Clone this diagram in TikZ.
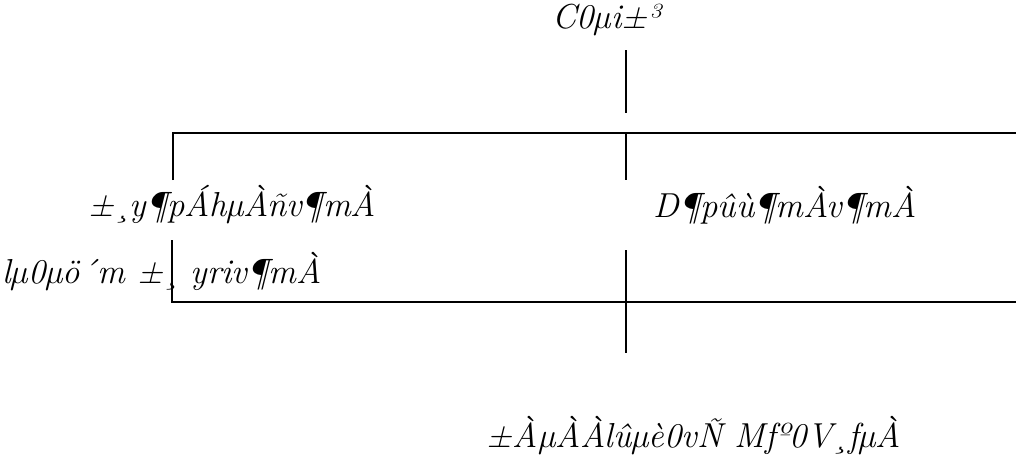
\documentclass[tikz,border=0pt]{standalone}
\usetikzlibrary{positioning}

\begin{document}
\begin{tikzpicture}[
  x=0.75pt,y=-0.75pt,
  lbl/.style={font=\fontsize{26}{30}\selectfont\itshape,inner sep=0pt},
  ln/.style={line width=1.4pt,draw=black}
]
\useasboundingbox (0,0) rectangle (1016,462);
% labels
\node[lbl] (root) at (606,20) {C0µi±³};
\node[lbl] (left) at (232,205) {±¸y¶pÁhµÀñv¶mÀ};
\node[lbl] (right) at (785,205) {D¶pûù¶mÀv¶mÀ};
\node[lbl,anchor=west] (sub) at (2,272) {lµ0µö´m ±¸\,\,yriv¶mÀ};
\node[lbl] (bottom) at (694,436) {±ÀµÀÀlûµè0vÑ Mfº0V¸fµÀ};
% joints
\coordinate (rootA) at (626,50);
\coordinate (rootB) at (626,113);
\coordinate (busL) at (173,133);
\coordinate (busM) at (626,133);
\coordinate (busR) at (1016,133);
\coordinate (leftUp) at (173,180);
\coordinate (midUp) at (626,180);
\coordinate (subA) at (172,240);
\coordinate (subL) at (172,302);
\coordinate (subR) at (1016,302);
\coordinate (botA) at (626,250);
\coordinate (botB) at (626,353);
% connectors
\draw[ln] (rootA) -- (rootB);
\draw[ln] (leftUp) -- (busL) -- (busR);
\draw[ln] (busM) -- (midUp);
\draw[ln] (subA) -- (subL) -- (subR);
\draw[ln] (botA) -- (botB);
\end{tikzpicture}
\end{document}
